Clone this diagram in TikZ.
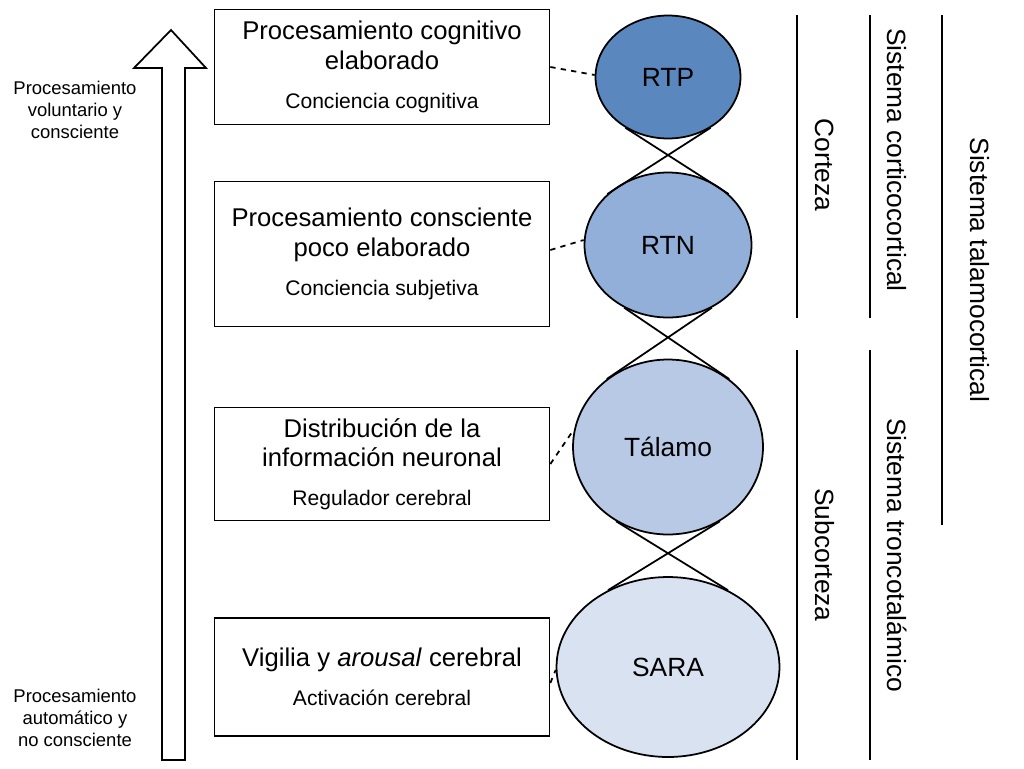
\documentclass[tikz,border=0pt]{standalone}
\usepackage{fontspec}
\setmainfont{Liberation Sans}
\usetikzlibrary{shapes.geometric}

\newcommand{\titlefont}{\fontsize{14.6}{17}\selectfont}
\newcommand{\subfont}{\fontsize{12}{17}\selectfont}
\tikzset{
    box/.style={draw, line width=1pt, minimum width=6.7cm, align=center, inner sep=0pt, font=\titlefont},
    blob/.style={ellipse, draw, line width=1pt, font=\fontsize{15}{17}\selectfont},
    guide/.style={line width=1.4pt},
    side/.style={rotate=-90, font=\fontsize{15}{17}\selectfont},
    note/.style={align=center, font=\fontsize{10.5}{12.5}\selectfont}
}

\begin{document}
\begin{tikzpicture}[x=0.02cm, y=-0.02cm]
    \useasboundingbox (0,0) rectangle (1024,768);

    % hollow arrow
    \draw[line width=1pt] (162,760) -- (185,760) -- (185,68) -- (206,68) -- (171,30)
        -- (134,68) -- (162,68) -- cycle;
    \node[note] (top) at (75,110) {Procesamiento\\voluntario y\\consciente};
    \node[note] (bot) at (75,718) {Procesamiento\\automático y\\no consciente};

    % boxes
    \node[box, minimum height=2.3cm] (b1) at (382,67)
        {Procesamiento cognitivo\\ elaborado\\[5pt] \subfont Conciencia cognitiva};
    \node[box, minimum height=2.9cm] (b2) at (382,254)
        {Procesamiento consciente\\ poco elaborado\\[5pt] \subfont Conciencia subjetiva};
    \node[box, minimum height=2.26cm] (b3) at (382,464)
        {Distribución de la\\ información neuronal\\[5pt] \subfont Regulador cerebral};
    \node[box, minimum height=2.36cm] (b4) at (382,677)
        {Vigilia y \textit{arousal} cerebral\\[5pt] \subfont Activación cerebral};

    % ellipses
    \node[blob, fill={rgb,255:red,91;green,135;blue,191}, minimum width=2.9cm, minimum height=2.46cm] (rtp) at (668,77) {RTP};
    \node[blob, fill={rgb,255:red,145;green,175;blue,216}, minimum width=3.34cm, minimum height=2.9cm] (rtn) at (668,245) {RTN};
    \node[blob, fill={rgb,255:red,183;green,201;blue,228}, minimum width=3.8cm, minimum height=3.5cm] (tal) at (668,447) {Tálamo};
    \node[blob, fill={rgb,255:red,217;green,226;blue,240}, minimum width=4.46cm, minimum height=3.6cm] (sara) at (668,667) {SARA};

    % crossings
    \draw[line width=1pt] (rtp.-130) -- (rtn.40) (rtp.-50) -- (rtn.140);
    \draw[line width=1pt] (rtn.-125) -- (tal.48) (rtn.-55) -- (tal.132);
    \draw[line width=1pt] (tal.-125) -- (sara.52) (tal.-55) -- (sara.128);

    % dashed links
    \draw[line width=1pt, dashed] (b1.east |- 0,67) -- (rtp.west |- 0,75);
    \draw[line width=1pt, dashed] (b2.east |- 0,250) -- (rtn.west |- 0,240);
    \draw[line width=1pt, dashed] (b3.east |- 0,464) -- (tal.west |- 0,432);
    \draw[line width=1pt, dashed] (b4.east |- 0,683) -- (sara.west |- 0,670);

    % side brackets
    \draw[guide] (797,15) coordinate (c1) -- (797,318) coordinate (c2);
    \draw[guide] (797,350) coordinate (s1) -- (797,760) coordinate (s2);
    \draw[guide] (870,15) coordinate (k1) -- (870,318) coordinate (k2);
    \draw[guide] (870,350) coordinate (t1) -- (870,760) coordinate (t2);
    \draw[guide] (942,15) coordinate (m1) -- (942,525) coordinate (m2);
    \node[side] (corteza) at (825,165) {Corteza};
    \node[side] (subcorteza) at (825,555) {Subcorteza};
    \node[side] (cortico) at (897,160) {Sistema corticocortical};
    \node[side] (tronco) at (897,555) {Sistema troncotalámico};
    \node[side] (talamo) at (980,270) {Sistema talamocortical};
\end{tikzpicture}
\end{document}
